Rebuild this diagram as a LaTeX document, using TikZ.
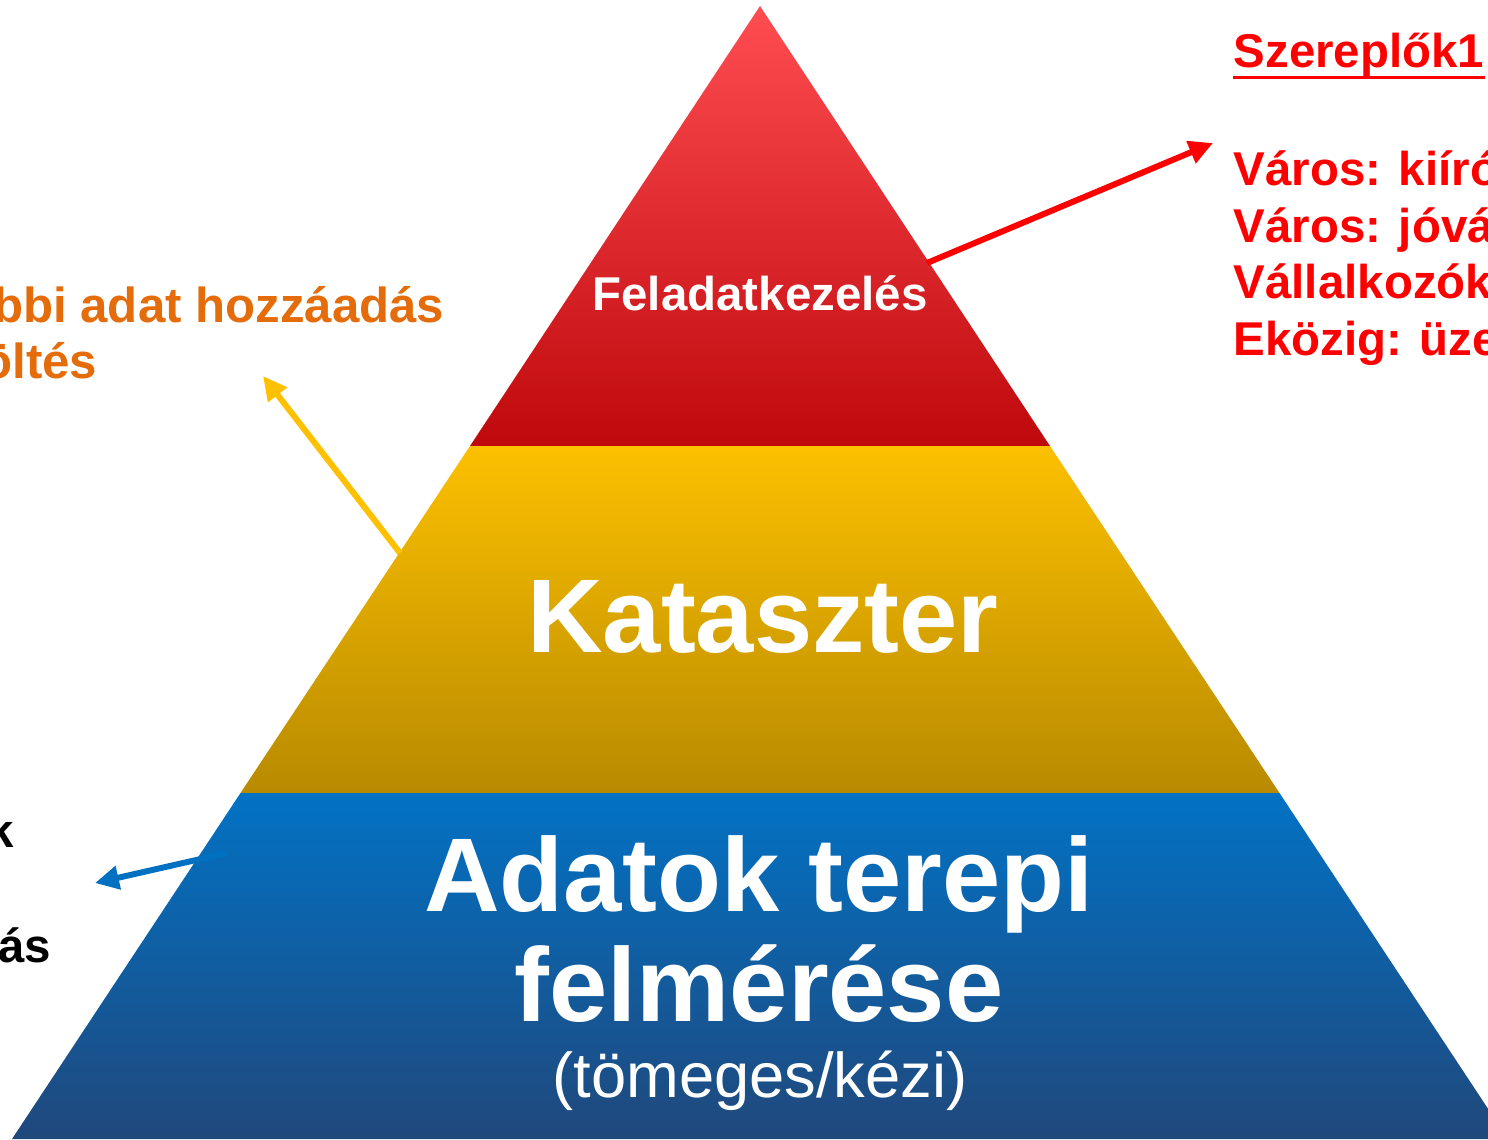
\documentclass[tikz,border=0pt]{standalone}
\usepackage{fontspec}
\setmainfont{Liberation Sans}
\usetikzlibrary{arrows.meta}
\definecolor{redtop}{RGB}{255, 77, 82}
\definecolor{redbot}{RGB}{190, 8, 12}
\definecolor{yeltop}{RGB}{252, 192, 0}
\definecolor{yelbot}{RGB}{184, 138, 0}
\definecolor{bluetop}{RGB}{2, 114, 196}
\definecolor{bluebot}{RGB}{32, 72, 124}
\definecolor{actorred}{RGB}{255, 0, 0}
\definecolor{noteorange}{RGB}{228, 108, 10}
\definecolor{arrowyellow}{RGB}{255, 192, 0}
\definecolor{arrowblue}{RGB}{0, 112, 192}

\tikzset{
    layertext/.style={text=white, inner sep=0pt, anchor=base},
    sidetext/.style={font=\fontsize{13.5}{16.2}\selectfont\bfseries, inner sep=0pt},
    notetext/.style={font=\fontsize{14}{16.8}\selectfont\bfseries, text=noteorange, inner sep=0pt, anchor=base east},
    pointer/.style={line width=1.7pt, -{Triangle[length=6.8pt, width=6.5pt]}}
}

\begin{document}
\begin{tikzpicture}[x=0.1mm, y=-0.1mm]
    % Picture frame
    \useasboundingbox (0,0) rectangle (1488,1139);
    \clip (0,0) rectangle (1488,1139);

    % Pyramid layers
    \shade[top color=redtop, bottom color=redbot] (760,6) -- (1050,446) -- (470,446) -- cycle;
    \shade[top color=yeltop, bottom color=yelbot] (470,446) -- (1050,446) -- (1279.5,793) -- (240.5,793) -- cycle;
    \shade[top color=bluetop, bottom color=bluebot] (240.5,793) -- (1279.5,793) -- (1508,1139) -- (12,1139) -- cycle;

    % Layer labels
    \node[layertext, font=\fontsize{13.5}{16.2}\selectfont\bfseries] (feladat) at (760,310) {Feladatkezelés};
    \node[layertext, font=\fontsize{29.8}{31}\selectfont\bfseries] (kataszter) at (763,652) {Kataszter};
    \node[layertext, font=\fontsize{29.8}{31}\selectfont\bfseries] (adatok) at (759,911) {Adatok terepi};
    \node[layertext, font=\fontsize{29.8}{31}\selectfont\bfseries] (felmeres) at (759,1021) {felmérése};
    \node[layertext, font=\fontsize{18}{20}\selectfont] (tomeges) at (760,1097) {(tömeges/kézi)};

    % Actors on the right
    \node[sidetext, text=actorred, anchor=base west] (szereplok) at (1233,67) {Szereplők1};
    \draw[actorred, line width=0.85pt] ([yshift=-2.9pt]szereplok.base west) -- ([yshift=-2.9pt]szereplok.base east);
    \node[sidetext, text=actorred, anchor=base west] (varos1) at (1233,185) {Város: kiíró};
    \node[sidetext, text=actorred, anchor=base west] (varos2) at (1233,242) {Város: jóvá};
    \node[sidetext, text=actorred, anchor=base west] (vallalk) at (1233,298) {Vállalkozók};
    \node[sidetext, text=actorred, anchor=base west] (ekozig) at (1233,355) {Eközig: üze};

    % Notes on the left
    \node[notetext] (tovabbi) at (445,322) {További adat hozzáadás};
    \node[notetext] (feltoltes) at (98,378) {Feltöltés};
    \node[sidetext, anchor=base east] (felmnote1) at (15,847) {k};
    \node[sidetext, anchor=base east] (felmnote2) at (52,962) {ás};

    % Arrows
    \coordinate (redfrom) at (927,263);
    \coordinate (redto) at (1213,143);
    \draw[pointer, actorred] (redfrom) -- (redto);
    \coordinate (yelfrom) at (400,553);
    \coordinate (yelto) at (263,376);
    \draw[pointer, arrowyellow] (yelfrom) -- (yelto);
    \coordinate (bluefrom) at (227,853);
    \coordinate (blueto) at (95,883);
    \draw[pointer, arrowblue] (bluefrom) -- (blueto);
\end{tikzpicture}
\end{document}
